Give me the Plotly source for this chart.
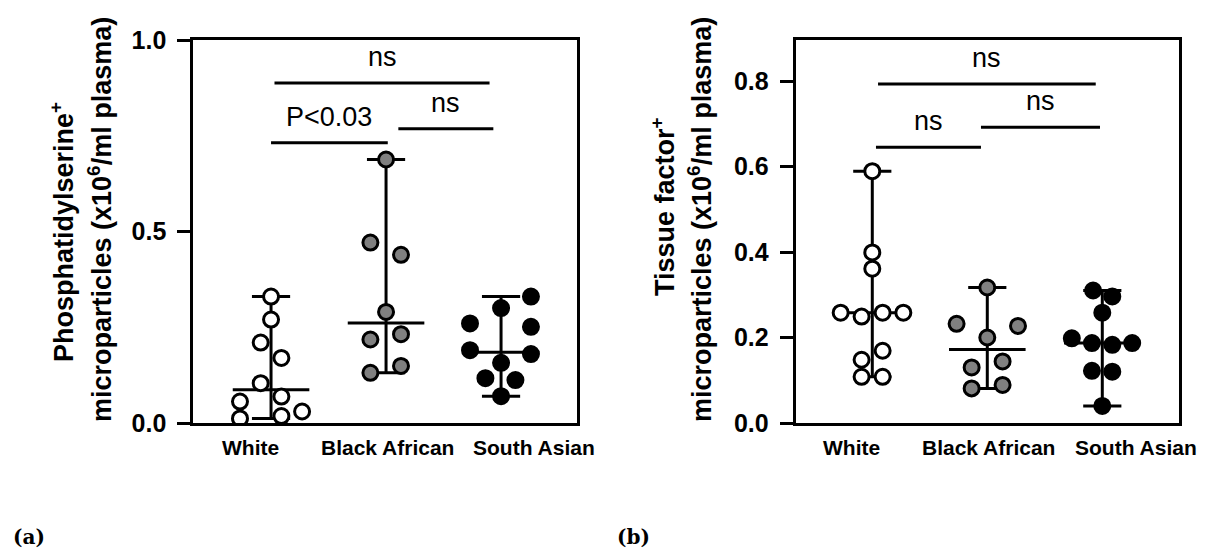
import numpy as np
import plotly.graph_objects as go

# ---------------- data ----------------
categories = ["White", "Black African", "South Asian"]

# Panel (a): Phosphatidylserine+ microparticles
a_white = [0.33, 0.27, 0.21, 0.17, 0.104, 0.069, 0.056, 0.03, 0.018, 0.012]
a_white_jit = [0, 0, -0.09, 0.09, -0.09, 0.09, -0.27, 0.27, 0.09, -0.27]
a_black = [0.688, 0.471, 0.439, 0.29, 0.218, 0.232, 0.131, 0.149]
a_black_jit = [0, -0.136, 0.13, 0, -0.136, 0.13, -0.136, 0.13]
a_south = [0.33, 0.30, 0.26, 0.251, 0.19, 0.18, 0.157, 0.117, 0.112, 0.07]
a_south_jit = [0.26, 0, -0.27, 0.26, -0.27, 0.26, 0, -0.136, 0.125, 0]

# Panel (b): Tissue factor+ microparticles
b_white = [0.589, 0.399, 0.361, 0.258, 0.249, 0.258, 0.258, 0.169, 0.148, 0.108, 0.108]
b_white_jit = [0, 0, 0, -0.275, -0.093, 0.09, 0.27, 0.09, -0.093, -0.093, 0.09]
b_black = [0.317, 0.232, 0.227, 0.2, 0.13, 0.144, 0.081, 0.089]
b_black_jit = [0, -0.267, 0.267, 0, -0.136, 0.133, -0.136, 0.133]
b_south = [0.31, 0.296, 0.258, 0.198, 0.187, 0.183, 0.187, 0.122, 0.12, 0.04]
b_south_jit = [-0.08, 0.087, 0, -0.265, -0.09, 0.087, 0.26, -0.09, 0.087, 0]

# significance comparisons: (x start, x end, level, label)
a_comparisons = [(0.03, 1.90, 0.888, "ns"), (0.0, 1.015, 0.732, "P<0.03"), (1.107, 1.933, 0.768, "ns")]
b_comparisons = [(0.05, 1.943, 0.793, "ns"), (0.032, 0.945, 0.645, "ns"), (0.945, 1.98, 0.692, "ns")]

a_ticks = [0.0, 0.5, 1.0]
b_ticks = [0.0, 0.2, 0.4, 0.6, 0.8]
label_offsets = [-0.18, 0.01, 0.29]

a_title = ["Phosphatidylserine<sup>+</sup>", "microparticles (x10<sup>6</sup>/ml plasma)"]
b_title = ["Tissue factor<sup>+</sup>", "microparticles (x10<sup>6</sup>/ml plasma)"]

fills = ["white", "#808080", "black"]

# the page body adds an 8px margin; the figure is sized/offset to compensate
OFF = 8
W, H = 1215 - OFF, 554 - OFF
fig = go.Figure()

ARIAL = "Liberation Sans, Arial"


def px(x):
    return (x - OFF) / W


def py(y):
    return 1 - (y - OFF) / H


def add_panel(groups, jits, xref, yref, comps):
    # median & range lines
    for i, vals in enumerate(groups):
        v = np.array(vals)
        lo, hi, med = v.min(), v.max(), float(np.median(v))
        xs = [i, i, None, i - 0.166, i + 0.166, None, i - 0.166, i + 0.166, None, i - 0.333, i + 0.333]
        ys = [lo, hi, None, lo, lo, None, hi, hi, None, med, med]
        fig.add_trace(go.Scatter(x=xs, y=ys, mode="lines", xaxis=xref, yaxis=yref,
                                 line=dict(color="black", width=3), hoverinfo="skip",
                                 showlegend=False))
    for i, (vals, jit) in enumerate(zip(groups, jits)):
        fig.add_trace(go.Scatter(x=[i + j for j in jit], y=vals, mode="markers",
                                 xaxis=xref, yaxis=yref, showlegend=False,
                                 marker=dict(size=15, color=fills[i],
                                             line=dict(color="black", width=3))))
    for (x0, x1, lvl, lab) in comps:
        fig.add_trace(go.Scatter(x=[x0, x1], y=[lvl, lvl], mode="lines", xaxis=xref, yaxis=yref,
                                 line=dict(color="black", width=3), showlegend=False,
                                 hoverinfo="skip"))
        fig.add_annotation(x=(x0 + x1) / 2, y=lvl, xref=xref, yref=yref, text=lab,
                           showarrow=False, yanchor="bottom", yshift=9,
                           font=dict(family=ARIAL, size=27, color="black"))
    for i, cat in enumerate(categories):
        fig.add_annotation(x=i + label_offsets[i], y=0, xref=xref, yref=yref, text=cat,
                           showarrow=False, yanchor="top", yshift=-11,
                           font=dict(family=ARIAL, size=21, color="black", weight="bold"))


add_panel([a_white, a_black, a_south], [a_white_jit, a_black_jit, a_south_jit], "x", "y", a_comparisons)
add_panel([b_white, b_black, b_south], [b_white_jit, b_black_jit, b_south_jit], "x2", "y2", b_comparisons)

ydom = [py(423), py(40)]
common_x = dict(showgrid=False, zeroline=False, showline=True, linecolor="black", linewidth=3,
                mirror=True, ticks="", showticklabels=False, automargin=False)
common_y = dict(showgrid=False, zeroline=False, showline=True, linecolor="black", linewidth=3,
                mirror=True, ticks="outside", ticklen=13, tickwidth=3, tickcolor="black",
                tickformat=".1f", automargin=False, ticklabelstandoff=6,
                tickfont=dict(family=ARIAL, size=25, color="black", weight="bold"))

fig.update_layout(
    template="none",
    width=W, height=H,
    margin=dict(l=0, r=0, t=0, b=0, pad=0, autoexpand=False),
    paper_bgcolor="white", plot_bgcolor="white",
    showlegend=False,
    xaxis=dict(domain=[px(193.3), px(577.3)], range=[-0.676, 2.663], anchor="y", **common_x),
    yaxis=dict(domain=ydom, range=[0, 1.0], tickvals=a_ticks, anchor="x", **common_y),
    xaxis2=dict(domain=[px(795.7), px(1179)], range=[-0.666, 2.667], anchor="y2", **common_x),
    yaxis2=dict(domain=ydom, range=[0, 0.896], tickvals=b_ticks, anchor="x2", **common_y),
)

# y-axis titles (two lines each)
for (cx, cy, txt) in [(62, 232, a_title[0]), (100, 220, a_title[1]),
                      (663, 207, b_title[0]), (700, 220, b_title[1])]:
    fig.add_annotation(x=px(cx), y=py(cy), xref="paper", yref="paper", text=txt,
                       textangle=-90, showarrow=False, xanchor="center", yanchor="middle",
                       font=dict(family=ARIAL, size=27, color="black", weight="bold"))

for (cx, cy, txt) in [(29, 537, "(a)"), (633, 537, "(b)")]:
    fig.add_annotation(x=px(cx), y=py(cy), xref="paper", yref="paper", text=txt,
                       showarrow=False, xanchor="center", yanchor="middle",
                       font=dict(family="DejaVu Serif", size=20, color="black", weight="bold"))

fig.write_html("out.html")
